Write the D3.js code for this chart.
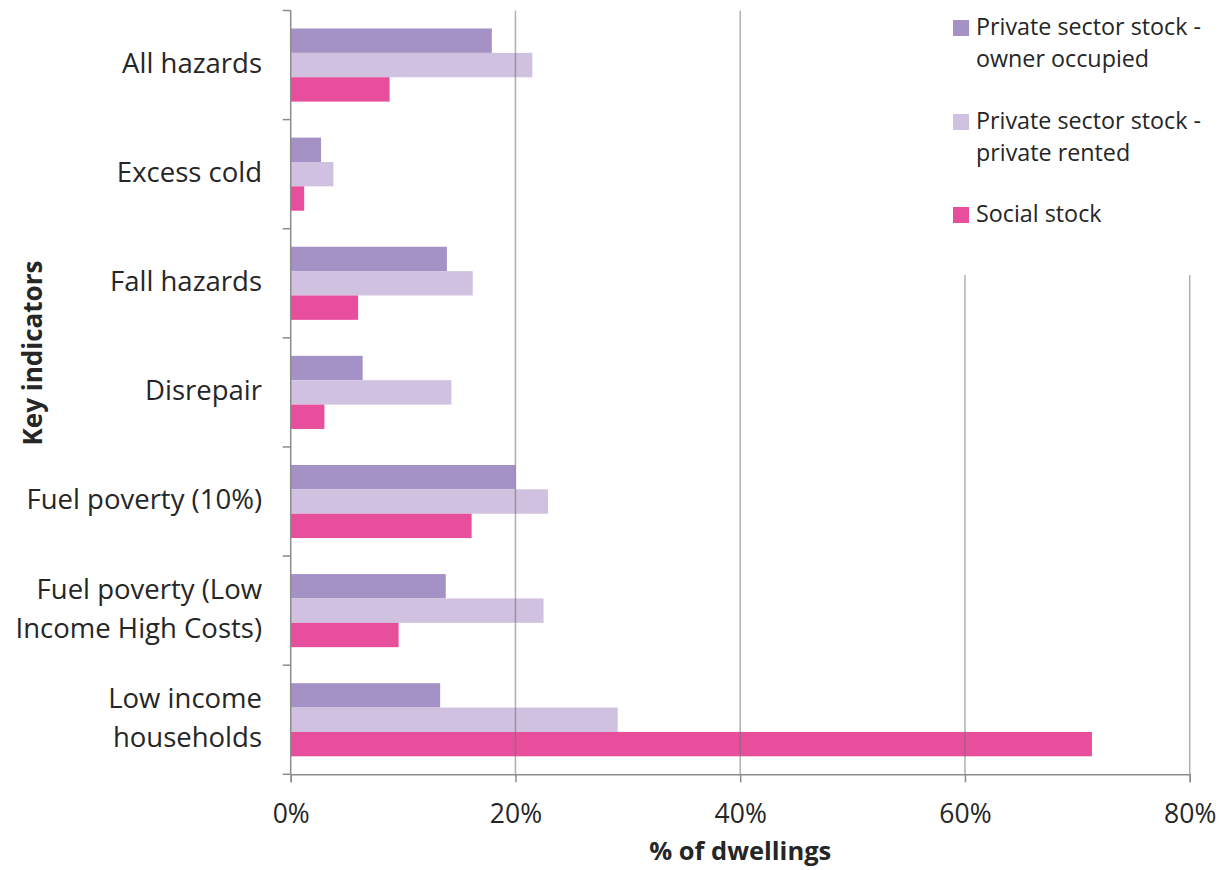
<!DOCTYPE html>
<html>
<head>
<meta charset="utf-8">
<script src="https://cdn.jsdelivr.net/npm/d3@7"></script>
<style>
  html, body { margin: 0; padding: 0; background: #fff; }
  svg { display: block; }
  text { font-family: "Open Sans", "Liberation Sans", sans-serif; fill: #262626; }
</style>
</head>
<body>
<svg id="chart" width="1222" height="870"></svg>
<script>
// Key indicators, top to bottom (label lines split for wrapping)
const categories = [
  "All hazards",
  "Excess cold",
  "Fall hazards",
  "Disrepair",
  "Fuel poverty (10%)",
  "Fuel poverty (Low Income High Costs)",
  "Low income households"
];
const categoryLines = [
  ["All hazards"],
  ["Excess cold"],
  ["Fall hazards"],
  ["Disrepair"],
  ["Fuel poverty (10%)"],
  ["Fuel poverty (Low", "Income High Costs)"],
  ["Low income", "households"]
];

// Tenure series
const seriesNames = [
  "Private sector stock - owner occupied",
  "Private sector stock - private rented",
  "Social stock"
];
const legendLines = [
  ["Private sector stock -", "owner occupied"],
  ["Private sector stock -", "private rented"],
  ["Social stock"]
];
const seriesColors = ["#a491c5", "#cfc1df", "#e74f9c"];

// % of dwellings per indicator
const ownerOccupied = [17.9, 2.7, 13.9, 6.4, 20.0, 13.8, 13.3];
const privateRented = [21.5, 3.8, 16.2, 14.3, 22.9, 22.5, 29.1];
const socialStock   = [8.8, 1.2, 6.0, 3.0, 16.1, 9.6, 71.3];
const seriesValues = [ownerOccupied, privateRented, socialStock];

const xTicks = [0, 20, 40, 60, 80];
const xTickLabels = ["0%", "20%", "40%", "60%", "80%"];

const svg = d3.select("#chart");

const plot = { left: 290.7, right: 1189.7, top: 10.5, bottom: 774.3 };

const x = d3.scaleLinear().domain([0, 80]).range([plot.left, plot.right]);
const y = d3.scaleBand().domain(categories)
  .range([plot.top, plot.bottom])
  .paddingInner(0.33).paddingOuter(0.165);
const ySub = d3.scaleBand().domain(seriesNames).range([0, y.bandwidth()]);

const rows = categories.map((c, i) => ({
  category: c,
  values: seriesNames.map((s, j) => ({ series: s, value: seriesValues[j][i], color: seriesColors[j] }))
}));

// Bars
const groups = svg.append("g").selectAll("g")
  .data(rows).join("g")
  .attr("transform", d => `translate(0,${y(d.category)})`);
groups.selectAll("rect")
  .data(d => d.values).join("rect")
  .attr("x", x(0))
  .attr("y", d => ySub(d.series))
  .attr("width", d => x(d.value) - x(0))
  .attr("height", ySub.bandwidth())
  .attr("fill", d => d.color);

// Vertical gridlines (drawn over the bars, semi-transparent)
svg.append("g").selectAll("line")
  .data(xTicks.slice(1)).join("line")
  .attr("x1", d => x(d)).attr("x2", d => x(d))
  .attr("y1", plot.top).attr("y2", plot.bottom)
  .attr("stroke", "#6f6f6f").attr("stroke-opacity", 0.55).attr("stroke-width", 1.5);

// Bottom axis
const xAxis = d3.axisBottom(x).tickValues(xTicks)
  .tickFormat((d, i) => xTickLabels[i]).tickSizeOuter(0).tickSize(8).tickPadding(22);
const gx = svg.append("g").attr("transform", `translate(0,${plot.bottom})`).call(xAxis);
gx.select(".domain").attr("stroke", "#8c8c8c").attr("stroke-width", 1.5);
gx.selectAll(".tick line").attr("stroke", "#8c8c8c").attr("stroke-width", 1.5);
gx.selectAll(".tick text").attr("font-size", 26.5).attr("fill", "#262626")
  .style("font-family", '"Open Sans", "Liberation Sans", sans-serif');

// Left axis: line with tick marks at category boundaries
const boundaries = d3.range(categories.length + 1).map(i =>
  i === 0 ? plot.top : (i === categories.length ? plot.bottom : y(categories[i]) - y.step() * y.paddingInner() / 2));
const gy = svg.append("g");
gy.append("line")
  .attr("x1", plot.left).attr("x2", plot.left)
  .attr("y1", plot.top).attr("y2", plot.bottom)
  .attr("stroke", "#8c8c8c").attr("stroke-width", 1.5);
gy.selectAll("line.tick").data(boundaries).join("line")
  .attr("class", "tick")
  .attr("x1", plot.left - 8).attr("x2", plot.left)
  .attr("y1", d => d).attr("y2", d => d)
  .attr("stroke", "#8c8c8c").attr("stroke-width", 1.5);

// Category labels
const lineGap = 39;
svg.append("g").selectAll("text")
  .data(rows).join("text")
  .attr("text-anchor", "end")
  .attr("font-size", 27.5)
  .each(function (d, i) {
    const lines = categoryLines[i];
    const cy = y(d.category) + y.bandwidth() / 2 - 2;
    const t = d3.select(this);
    lines.forEach((ln, k) => {
      t.append("tspan")
        .attr("x", 262)
        .attr("y", cy + (k - (lines.length - 1) / 2) * lineGap + 9.5)
        .text(ln);
    });
  });

// Axis titles
svg.append("text")
  .attr("x", (plot.left + plot.right) / 2).attr("y", 860)
  .attr("text-anchor", "middle").attr("font-size", 25.5).attr("font-weight", "bold")
  .text("% of dwellings");
svg.append("text")
  .attr("transform", "translate(42,353) rotate(-90)")
  .attr("text-anchor", "middle").attr("font-size", 26).attr("font-weight", "bold")
  .text("Key indicators");

// Legend with white background
const legend = svg.append("g");
legend.append("rect").attr("x", 940).attr("y", 0).attr("width", 282).attr("height", 275).attr("fill", "#fff");
const legendBaselines = [35, 129, 222];
const items = legend.selectAll("g.item")
  .data(seriesNames).join("g").attr("class", "item");
items.append("rect")
  .attr("x", 953).attr("width", 16).attr("height", 16)
  .attr("y", (d, i) => legendBaselines[i] - 15)
  .attr("fill", (d, i) => seriesColors[i]);
items.append("text")
  .attr("font-size", 23.3)
  .each(function (d, i) {
    const t = d3.select(this);
    legendLines[i].forEach((ln, k) => {
      t.append("tspan").attr("x", 976).attr("y", legendBaselines[i] + k * 32).text(ln);
    });
  });
</script>
</body>
</html>
